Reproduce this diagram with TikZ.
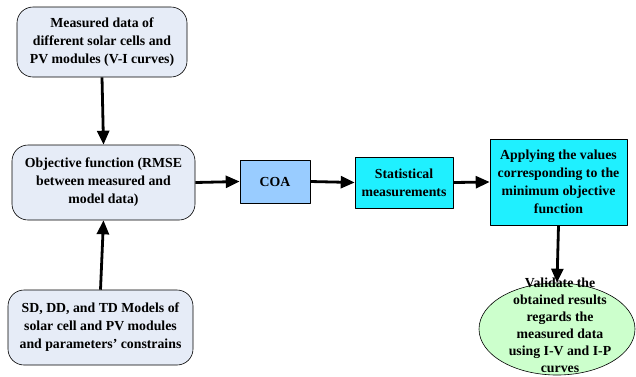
\documentclass[tikz,border=0pt]{standalone}
\usepackage{fontspec}
\setmainfont{Liberation Serif}
\usetikzlibrary{arrows.meta,shapes.geometric}

\definecolor{softblue}{HTML}{E6ECF7}
\definecolor{coablue}{HTML}{99CCFF}
\definecolor{statcyan}{HTML}{1FF0FF}
\definecolor{validgreen}{HTML}{CCFFCC}

\begin{document}
\begin{tikzpicture}[
  x=1pt,
  y=-1pt,
  font=\bfseries\fontsize{13.8}{18}\selectfont,
  line join=round,
  roundbox/.style={draw=black,fill=softblue,rounded corners=16pt,align=center,
    inner sep=0pt,line width=0.6pt},
  flatbox/.style={draw=black,align=center,inner sep=0pt,line width=0.6pt},
  flow/.style={-{Triangle[length=14pt,width=12pt]},line width=2.8pt}
]
  \useasboundingbox (0,0) rectangle (636,376);

  % Left column.
  \node[roundbox,minimum width=170pt,minimum height=70pt] (meas) at (102,42)
    {Measured data of\\different solar cells and\\PV modules (V-I curves)};
  \node[roundbox,minimum width=183pt,minimum height=75pt] (obj) at (103.5,182.5)
    {Objective function (RMSE\\between measured and\\model data)};
  \node[roundbox,minimum width=185pt,minimum height=75pt] (mods) at (100.5,327.5)
    {SD, DD, and TD Models of\\solar cell and PV modules\\and parameters' constrains};

  % Middle row.
  \node[flatbox,fill=coablue,minimum width=70pt,minimum height=43pt] (coa) at (275,181.5) {COA};
  \node[flatbox,fill=statcyan,minimum width=98pt,minimum height=51pt] (stat) at (404,182.5)
    {Statistical\\measurements};
  \node[flatbox,fill=statcyan,minimum width=137pt,minimum height=86pt] (apply) at (558.5,182)
    {Applying the values\\corresponding to the\\minimum objective\\function};

  % Validation ellipse, text runs past its edge.
  \node[ellipse,draw=black,fill=validgreen,line width=0.6pt,inner sep=0pt,
    minimum width=156pt,minimum height=92pt] (valid) at (557,329) {};
  \node[align=center,inner sep=0pt,font=\bfseries\fontsize{13.8}{17}\selectfont]
    (validtxt) at (560,325)
    {Validate the\\obtained results\\regards the\\measured data\\using I-V and I-P\\curves};

  % Connectors.
  \draw[flow] (meas.south) -- (obj.north);
  \draw[flow] (mods.north) -- (obj.south);
  \draw[flow] (obj.east) -- (coa.west);
  \draw[flow] (coa.east) -- (stat.west);
  \draw[flow] (stat.east) -- (apply.west);
  \draw[flow] (apply.south) -- (valid.north);
\end{tikzpicture}
\end{document}
